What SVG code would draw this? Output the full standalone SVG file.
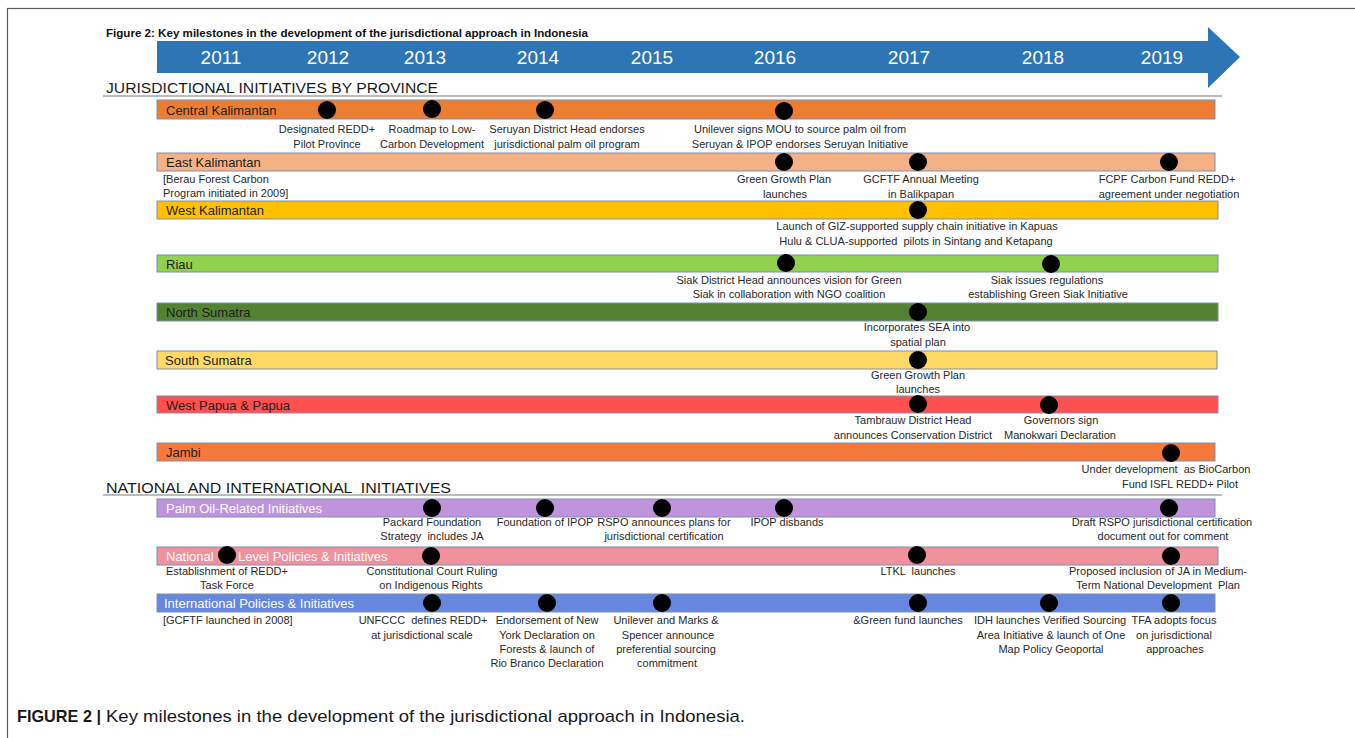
<svg xmlns="http://www.w3.org/2000/svg" width="1355" height="738" viewBox="0 0 1355 738">
<style>
.frame{fill:none;stroke:#5a5a5a;stroke-width:1.2}
.bar{stroke:#7f8fae;stroke-width:1}
.bl{font-family:"Liberation Sans",Arial,sans-serif;font-size:13px;fill:#1e1e1e}
.wl{fill:#ffffff}
.ev{font-family:"Liberation Sans",Arial,sans-serif;font-size:11px;fill:#2a2a2a;text-anchor:middle}
.evl{font-family:"Liberation Sans",Arial,sans-serif;font-size:11px;fill:#2a2a2a}
.dot{fill:#000000}
.yr{font-family:"Liberation Sans",Arial,sans-serif;font-size:19px;fill:#ffffff;text-anchor:middle}
.hd{font-family:"Liberation Sans",Arial,sans-serif;font-size:15px;fill:#1a1a1a}
.rule{stroke:#7a7a7a;stroke-width:1.2}
</style>
<rect width="1355" height="738" fill="#ffffff"/>
<rect class="frame" x="7.5" y="8.5" width="1360" height="740"/>
<text x="106" y="37" font-family="Liberation Sans, Arial, sans-serif" font-size="11" font-weight="bold" fill="#111" textLength="482" lengthAdjust="spacingAndGlyphs">Figure 2: Key milestones in the development of the jurisdictional approach in Indonesia</text>
<g id="timeline-arrow">
<polygon points="157,41 1208,41 1208,27 1240,57 1208,88 1208,73 157,73" fill="#2e75b6"/>
<text class="yr" x="221" y="64">2011</text>
<text class="yr" x="328" y="64">2012</text>
<text class="yr" x="425" y="64">2013</text>
<text class="yr" x="538" y="64">2014</text>
<text class="yr" x="652" y="64">2015</text>
<text class="yr" x="775" y="64">2016</text>
<text class="yr" x="909" y="64">2017</text>
<text class="yr" x="1043" y="64">2018</text>
<text class="yr" x="1162" y="64">2019</text>
</g>
<g id="heading-province">
<text class="hd" x="106" y="93" textLength="332" lengthAdjust="spacingAndGlyphs">JURISDICTIONAL INITIATIVES BY PROVINCE</text>
<line class="rule" x1="103" y1="96" x2="1222" y2="96"/>
</g>
<g id="connectors"></g>
<g id="central-kalimantan">
<rect class="bar" x="157" y="100" width="1058" height="19" fill="#ed7d31"/>
<text class="bl" x="166" y="114.5">Central Kalimantan</text>
<circle class="dot" cx="327" cy="110" r="9"/><circle class="dot" cx="432" cy="109" r="9"/><circle class="dot" cx="545" cy="110" r="9"/><circle class="dot" cx="784" cy="111" r="9"/>
<text class="ev" x="327" y="133">Designated REDD+</text><text class="ev" x="327" y="148">Pilot Province</text>
<text class="ev" x="432" y="133">Roadmap to Low-</text><text class="ev" x="432" y="148">Carbon Development</text>
<text class="ev" x="567" y="133">Seruyan District Head endorses</text><text class="ev" x="567" y="148">jurisdictional palm oil program</text>
<text class="ev" x="800" y="133">Unilever signs MOU to source palm oil from</text><text class="ev" x="800" y="148">Seruyan &amp; IPOP endorses Seruyan Initiative</text>
</g>
<g id="east-kalimantan">
<rect class="bar" x="157" y="153" width="1058" height="18" fill="#f4b183"/>
<text class="bl" x="166" y="167">East Kalimantan</text>
<circle class="dot" cx="784" cy="162" r="9"/><circle class="dot" cx="918" cy="162" r="9"/><circle class="dot" cx="1169" cy="162" r="9"/>
<text class="evl" x="163" y="183">[Berau Forest Carbon</text><text class="evl" x="163" y="197">Program initiated in 2009]</text>
<text class="ev" x="784" y="183">Green Growth Plan</text><text class="ev" x="785" y="198">launches</text>
<text class="ev" x="921" y="183">GCFTF Annual Meeting</text><text class="ev" x="921" y="198">in Balikpapan</text>
<text class="ev" x="1167" y="183">FCPF Carbon Fund REDD+</text><text class="ev" x="1169" y="198">agreement under negotiation</text>
</g>
<g id="west-kalimantan">
<rect class="bar" x="157" y="201" width="1061" height="18" fill="#ffc000"/>
<text class="bl" x="166" y="215">West Kalimantan</text>
<circle class="dot" cx="918" cy="210" r="9"/>
<text class="ev" x="917" y="230">Launch of GIZ-supported supply chain initiative in Kapuas</text><text class="ev" x="916" y="245" xml:space="preserve">Hulu &amp; CLUA-supported  pilots in Sintang and Ketapang</text>
</g>
<g id="riau">
<rect class="bar" x="157" y="255" width="1061" height="17" fill="#92d050"/>
<text class="bl" x="166" y="268.5">Riau</text>
<circle class="dot" cx="786" cy="263" r="9"/><circle class="dot" cx="1051" cy="264" r="9"/>
<text class="ev" x="789" y="284">Siak District Head announces vision for Green</text><text class="ev" x="789" y="298">Siak in collaboration with NGO coalition</text>
<text class="ev" x="1047" y="284">Siak issues regulations</text><text class="ev" x="1048" y="298">establishing Green Siak Initiative</text>
</g>
<g id="north-sumatra">
<rect class="bar" x="157" y="303" width="1061" height="18" fill="#548235"/>
<text class="bl" x="166" y="317">North Sumatra</text>
<circle class="dot" cx="918" cy="312" r="9"/>
<text class="ev" x="917" y="331">Incorporates SEA into</text><text class="ev" x="918" y="346">spatial plan</text>
</g>
<g id="south-sumatra">
<rect class="bar" x="157" y="351" width="1060" height="18" fill="#ffd966"/>
<text class="bl" x="165" y="365">South Sumatra</text>
<circle class="dot" cx="918" cy="360" r="9"/>
<text class="ev" x="918" y="379">Green Growth Plan</text><text class="ev" x="918" y="393">launches</text>
</g>
<g id="west-papua">
<rect class="bar" x="157" y="396" width="1061" height="17" fill="#ff5050"/>
<text class="bl" x="166" y="409.5">West Papua &amp; Papua</text>
<circle class="dot" cx="918" cy="404" r="9"/><circle class="dot" cx="1049" cy="405" r="9"/>
<text class="ev" x="913" y="424">Tambrauw District Head</text><text class="ev" x="913" y="439">announces Conservation District</text>
<text class="ev" x="1061" y="424">Governors sign</text><text class="ev" x="1060" y="439">Manokwari Declaration</text>
</g>
<g id="jambi">
<rect class="bar" x="157" y="443" width="1058" height="18" fill="#f5793a"/>
<text class="bl" x="166" y="457">Jambi</text>
<circle class="dot" cx="1171" cy="453" r="9"/>
<text class="ev" x="1166" y="473" xml:space="preserve">Under development  as BioCarbon</text><text class="ev" x="1180" y="488">Fund ISFL REDD+ Pilot</text>
</g>
<g id="heading-national">
<text class="hd" x="106" y="493" textLength="345" lengthAdjust="spacingAndGlyphs" xml:space="preserve">NATIONAL AND INTERNATIONAL  INITIATIVES</text>
<line class="rule" x1="103" y1="495" x2="1222" y2="495"/>
</g>
<g id="palm-oil">
<rect class="bar" x="157" y="499" width="1058" height="18" fill="#bf94dc"/>
<text class="bl wl" x="166" y="513">Palm Oil-Related Initiatives</text>
<circle class="dot" cx="432" cy="508" r="9"/><circle class="dot" cx="545" cy="508" r="9"/><circle class="dot" cx="662" cy="508" r="9"/><circle class="dot" cx="784" cy="508" r="9"/><circle class="dot" cx="1169" cy="508" r="9"/>
<text class="ev" x="432" y="526">Packard Foundation</text><text class="ev" x="432" y="540" xml:space="preserve">Strategy  includes JA</text>
<text class="ev" x="545" y="526">Foundation of IPOP</text>
<text class="ev" x="664" y="526">RSPO announces plans for</text><text class="ev" x="664" y="540">jurisdictional certification</text>
<text class="ev" x="787" y="526">IPOP disbands</text>
<text class="ev" x="1162" y="526">Draft RSPO jurisdictional certification</text><text class="ev" x="1163" y="540">document out for comment</text>
</g>
<g id="national-level">
<rect class="bar" x="157" y="547" width="1061" height="18" fill="#f0919e"/>
<text class="bl wl" x="166" y="561">National</text>
<text class="bl wl" x="238" y="561">Level Policies &amp; Initiatives</text>
<circle class="dot" cx="227" cy="555" r="9"/><circle class="dot" cx="431" cy="556" r="9"/><circle class="dot" cx="917" cy="555" r="9"/><circle class="dot" cx="1171" cy="556" r="9"/>
<text class="ev" x="227" y="575">Establishment of REDD+</text><text class="ev" x="227" y="589">Task Force</text>
<text class="ev" x="432" y="575">Constitutional Court Ruling</text><text class="ev" x="431" y="589">on Indigenous Rights</text>
<text class="ev" x="918" y="575" xml:space="preserve">LTKL  launches</text>
<text class="ev" x="1158" y="575">Proposed inclusion of JA in Medium-</text><text class="ev" x="1158" y="589" xml:space="preserve">Term National Development  Plan</text>
</g>
<g id="international">
<rect class="bar" x="157" y="594" width="1058" height="18" fill="#6686e0"/>
<text class="bl wl" x="164" y="608" font-size="13.5">International Policies &amp; Initiatives</text>
<circle class="dot" cx="432" cy="603" r="9"/><circle class="dot" cx="547" cy="603" r="9"/><circle class="dot" cx="662" cy="603" r="9"/><circle class="dot" cx="918" cy="603" r="9"/><circle class="dot" cx="1049" cy="603" r="9"/><circle class="dot" cx="1171" cy="603" r="9"/>
<text class="evl" x="163" y="624">[GCFTF launched in 2008]</text>
<text class="ev" x="423" y="624" xml:space="preserve">UNFCCC  defines REDD+</text><text class="ev" x="422" y="639">at jurisdictional scale</text>
<text class="ev" x="547" y="624">Endorsement of New</text><text class="ev" x="547" y="639">York Declaration on</text><text class="ev" x="547" y="653">Forests &amp; launch of</text><text class="ev" x="547" y="667">Rio Branco Declaration</text>
<text class="ev" x="666" y="624">Unilever and Marks &amp;</text><text class="ev" x="668" y="639">Spencer announce</text><text class="ev" x="666" y="653">preferential sourcing</text><text class="ev" x="667" y="667">commitment</text>
<text class="ev" x="908" y="624">&amp;Green fund launches</text>
<text class="ev" x="1050" y="624">IDH launches Verified Sourcing</text><text class="ev" x="1051" y="639">Area Initiative &amp; launch of One</text><text class="ev" x="1051" y="653">Map Policy Geoportal</text>
<text class="ev" x="1174" y="624">TFA adopts focus</text><text class="ev" x="1174" y="639">on jurisdictional</text><text class="ev" x="1175" y="653">approaches</text>
</g>
<g id="caption">
<text x="17" y="722" font-family="Liberation Sans, Arial, sans-serif" font-size="17" font-weight="bold" fill="#1a1a1a" textLength="84" lengthAdjust="spacingAndGlyphs">FIGURE 2 |</text>
<text x="106" y="722" font-family="Liberation Sans, Arial, sans-serif" font-size="17" fill="#1a1a1a" textLength="639" lengthAdjust="spacingAndGlyphs">Key milestones in the development of the jurisdictional approach in Indonesia.</text>
</g>
</svg>
